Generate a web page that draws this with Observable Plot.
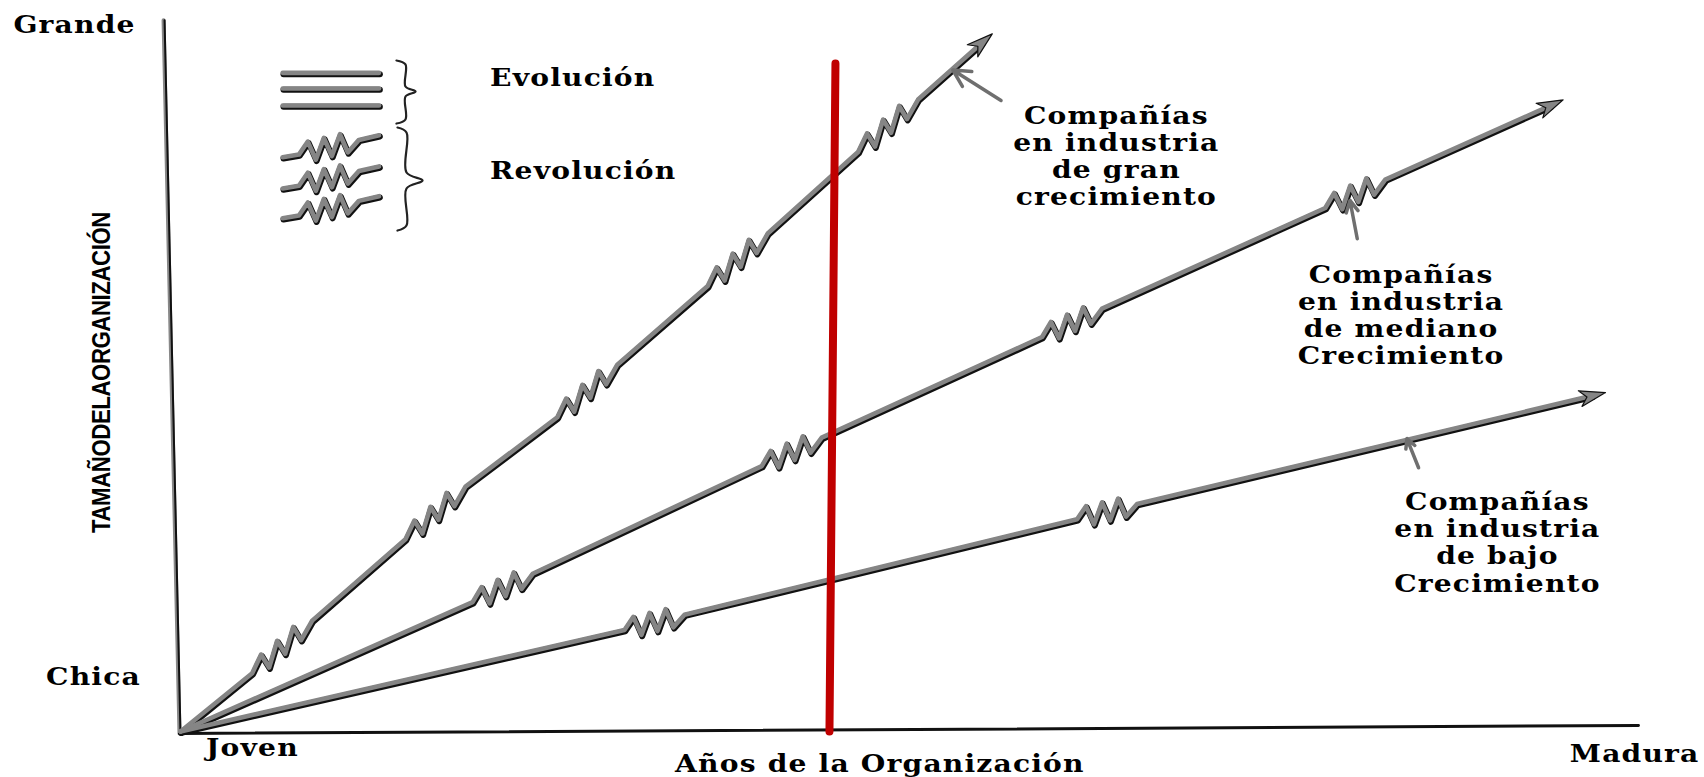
<!DOCTYPE html>
<html>
<head>
<meta charset="utf-8">
<script src="https://cdn.jsdelivr.net/npm/d3@7"></script>
<script src="https://cdn.jsdelivr.net/npm/@observablehq/plot@0.6"></script>
<style>
html, body { margin: 0; padding: 0; background: #fff; }
#chart svg { display: block; }
</style>
</head>
<body>
<div id="chart"></div>
<script>
// ---------------- DATA (x = años de la organización 0-100, y = tamaño 0-100) ----------------
const series = ["gran", "mediano", "bajo"];
const inicio = [0, 0];
const finGran = [55.6, 98.4];
const finMediano = [94.7, 89.1];
const finBajo = [97.6, 47.8];
// centers of the "revolution" zig-zags on each line
const revolucionesGran = [[7.1, 12.1], [17.6, 31.0], [28.0, 48.2], [38.3, 66.7], [48.6, 85.6]];
const revolucionesMediano = [[22.2, 20.3], [42.0, 39.5], [61.2, 57.7], [80.6, 75.9]];
const revolucionesBajo = [[32.6, 15.4], [63.6, 31.0]];
// zig-zag glyph (offsets from its center, in data units)
const zigDx = [-2.19, -1.58, -1.03, -0.48, 0.07, 0.62, 1.16, 1.92];
const zigDy = [0, 1.55, -1.27, 1.55, -1.27, 1.55, -1.27, 0.14];

// labels of the three lines
const etiquetas = [
  "Compañías\nen industria\nde gran\ncrecimiento",
  "Compañías\nen industria\nde mediano\nCrecimiento",
  "Compañías\nen industria\nde bajo\nCrecimiento"
];
const etiquetasX = [64.1, 83.6, 90.2];
const etiquetasY = [81.2, 58.8, 26.7];
// small pointer arrows label -> line  [x1, y1, x2, y2]
const flechas = [[56.2, 89.0, 52.9, 93.3], [80.6, 69.5, 80.1, 74.9], [84.8, 37.2, 84.0, 41.3]];

// axes ends
const ejeY = [[-1.16, 100.3], [-0.07, -0.28]];
const ejeX = [[-0.07, -0.28], [99.86, 0.85]];
// red marker line
const lineaRoja = [[44.86, 94.2], [44.45, 0]];

// axis end labels
const rotulosEjes = ["Grande", "Chica", "Joven", "Madura"];
const rotulosEjesX = [-7.26, -5.96, 4.93, 99.6];
const rotulosEjesY = [99.6, 7.6, -2.4, -3.2];
const tituloX = "Años de la Organización";
const tituloXPos = [47.9, -4.65];
const tituloY = "TAMAÑODELAORGANIZACIÓN";
const tituloYPos = [-5.41, 50.63];

// legend
const leyendaTextos = ["Evolución", "Revolución"];
const leyendaTextosPos = [[21.2, 92.1], [21.2, 79.0]];
const leyendaX = [7.0, 13.6];
const leyendaEvolucionY = [92.9, 90.7, 88.3];
const leyendaRevolucionY = [82.4, 78.0, 73.8];
const leyendaZigCentroX = 10.3;
const llave1 = [[14.79, 94.64], [15.41, 94.08], [15.41, 90.97], [16.10, 90.27], [15.41, 89.56], [15.41, 86.32], [14.79, 85.75]];
const llave2 = [[14.86, 85.19], [15.48, 84.49], [15.48, 78.84], [16.58, 77.71], [15.48, 76.59], [15.48, 71.37], [14.86, 70.66]];

// ---------------- LAYOUT ----------------
const W = 1704, H = 777, ML = 180, MR = 64, MT = 22, MB = 46;
const PX = (W - ML - MR) / 100;   // px per x unit
const PY = (H - MT - MB) / 100;   // px per y unit

function buildPath(start, end, revs, serie, trim) {
  const slope = (end[1] - start[1]) / (end[0] - start[0]);
  const pts = [{x: start[0], y: start[1], serie}];
  for (const [cx, cy] of revs) {
    zigDx.forEach((dx, i) => pts.push({x: cx + dx, y: cy + slope * dx + zigDy[i], serie}));
  }
  if (trim) {
    const ux = (end[0] - start[0]) * PX, uy = (end[1] - start[1]) * PY;
    const l = Math.hypot(ux, uy), a = ux / l, b = uy / l;
    pts.push({x: end[0] - 14 * a / PX, y: end[1] - 14 * b / PY, serie});
  } else {
    pts.push({x: end[0], y: end[1], serie});
  }
  return pts;
}
function arrowHead(start, end, serie) {
  const ux = (end[0] - start[0]) * PX, uy = (end[1] - start[1]) * PY;
  const l = Math.hypot(ux, uy), a = ux / l, b = uy / l;
  const L = 26, Wd = 8, N = 7;
  const p = [[0, 0], [-L * a - Wd * b, -L * b + Wd * a], [-(L - N) * a, -(L - N) * b], [-L * a + Wd * b, -L * b - Wd * a], [0, 0]];
  return p.map(([px, py]) => ({x: end[0] + px / PX, y: end[1] + py / PY, serie}));
}

const caminos = [
  ...buildPath(inicio, finGran, revolucionesGran, "gran", true),
  ...buildPath(inicio, finMediano, revolucionesMediano, "mediano", true),
  ...buildPath(inicio, finBajo, revolucionesBajo, "bajo", true)
];
const puntas = [
  ...arrowHead(inicio, finGran, "gran"),
  ...arrowHead(inicio, finMediano, "mediano"),
  ...arrowHead(inicio, finBajo, "bajo")
];
const leyendaRectas = leyendaEvolucionY.flatMap((y, i) => leyendaX.map(x => ({x, y, serie: "e" + i})));
const leyendaZigs = leyendaRevolucionY.flatMap((y, i) =>
  buildPath([leyendaX[0], y - 1.4], [leyendaX[1], y + 1.7], [[leyendaZigCentroX, y]], "r" + i, false));
const trazos = [...caminos, ...leyendaRectas, ...leyendaZigs];
const llaves = [...llave1.map(([x, y]) => ({x, y, s: 1})), ...llave2.map(([x, y]) => ({x, y, s: 2}))];
const etiquetasData = etiquetas.map((t, i) => ({t, x: etiquetasX[i], y: etiquetasY[i]}));
const rotulosData = rotulosEjes.map((t, i) => ({t, x: rotulosEjesX[i], y: rotulosEjesY[i]}));

const SERIF = "'DejaVu Serif', serif";
const serif = {fontFamily: SERIF, fontWeight: "bold", fontSize: 24, fill: "#000"};

const plot = Plot.plot({
  width: W, height: H,
  marginLeft: ML, marginRight: MR, marginTop: MT, marginBottom: MB,
  x: {domain: [0, 100], axis: null},
  y: {domain: [0, 100], axis: null},
  style: {background: "#fff", overflow: "visible"},
  marks: [
    // axes
    Plot.line(ejeY, {x: d => d[0], y: d => d[1], stroke: "#888", strokeWidth: 4}),
    Plot.line(ejeY, {x: d => d[0], y: d => d[1], stroke: "#111", strokeWidth: 2, dx: 1}),
    Plot.line(ejeX, {x: d => d[0], y: d => d[1], stroke: "#111", strokeWidth: 3}),
    // growth lines (shadow + body)
    Plot.line(trazos, {x: "x", y: "y", z: "serie", stroke: "#111", strokeWidth: 6, dx: 0.8, dy: 1.3, strokeLinejoin: "round", strokeLinecap: "round"}),
    Plot.line(trazos, {x: "x", y: "y", z: "serie", stroke: "#858585", strokeWidth: 4.6, strokeLinejoin: "round", strokeLinecap: "round"}),
    Plot.line(puntas, {x: "x", y: "y", z: "serie", fill: "#858585", stroke: "#111", strokeWidth: 1.2, strokeLinejoin: "round"}),
    // legend braces
    Plot.line(llaves, {x: "x", y: "y", z: "s", stroke: "#222", strokeWidth: 2.2, curve: "catmull-rom"}),
    // pointer arrows
    Plot.arrow(flechas, {x1: d => d[0], y1: d => d[1], x2: d => d[2], y2: d => d[3], stroke: "#6f6f6f", strokeWidth: 3.5, headLength: 12, headAngle: 55}),
    // red vertical line
    Plot.line(lineaRoja, {x: d => d[0], y: d => d[1], stroke: "#c00000", strokeWidth: 8}),
    // texts
    Plot.text(etiquetasData, {x: "x", y: "y", text: "t", textAnchor: "middle", lineAnchor: "middle", lineHeight: 1.13, ...serif}),
    Plot.text(rotulosData, {x: "x", y: "y", text: "t", textAnchor: "middle", lineAnchor: "middle", ...serif}),
    Plot.text([tituloX], {x: tituloXPos[0], y: tituloXPos[1], text: d => d, textAnchor: "middle", lineAnchor: "middle", ...serif}),
    Plot.text(leyendaTextos, {x: (d, i) => leyendaTextosPos[i][0], y: (d, i) => leyendaTextosPos[i][1], text: d => d, textAnchor: "start", lineAnchor: "middle", ...serif}),
    Plot.text([tituloY], {x: tituloYPos[0], y: tituloYPos[1], text: d => d, rotate: -90, textAnchor: "middle", lineAnchor: "middle", fontFamily: "'Liberation Sans', Arial, sans-serif", fontWeight: "bold", fontSize: 25, fill: "#000"})
  ]
});

document.getElementById("chart").append(plot);

// widen the serif lettering to match the broad typeface of the original:
// the x-axis title of the original is 411px wide; all serif texts get the same stretch.
const allTexts = Array.from(plot.querySelectorAll("text"));
const serifTexts = allTexts.filter(el => {
  const g = el.closest("g[font-family]");
  return g && g.getAttribute("font-family").includes("DejaVu Serif");
});
serifTexts.forEach(el => { el.style.letterSpacing = "1px"; });
const ref = serifTexts.find(el => el.textContent === tituloX);
const stretch = ref ? 411 / ref.getBBox().width : 1.3;
serifTexts.forEach(el => {
  el.setAttribute("transform", (el.getAttribute("transform") || "") + ` scale(${stretch},1)`);
});
// compress the vertical title to the original length
const yl = allTexts.find(el => el.textContent === tituloY);
if (yl) {
  yl.style.letterSpacing = "-0.5px";
  const len = yl.getBBox().width;
  yl.setAttribute("transform", (yl.getAttribute("transform") || "") + ` scale(${321 / len},1)`);
}
</script>
</body>
</html>
